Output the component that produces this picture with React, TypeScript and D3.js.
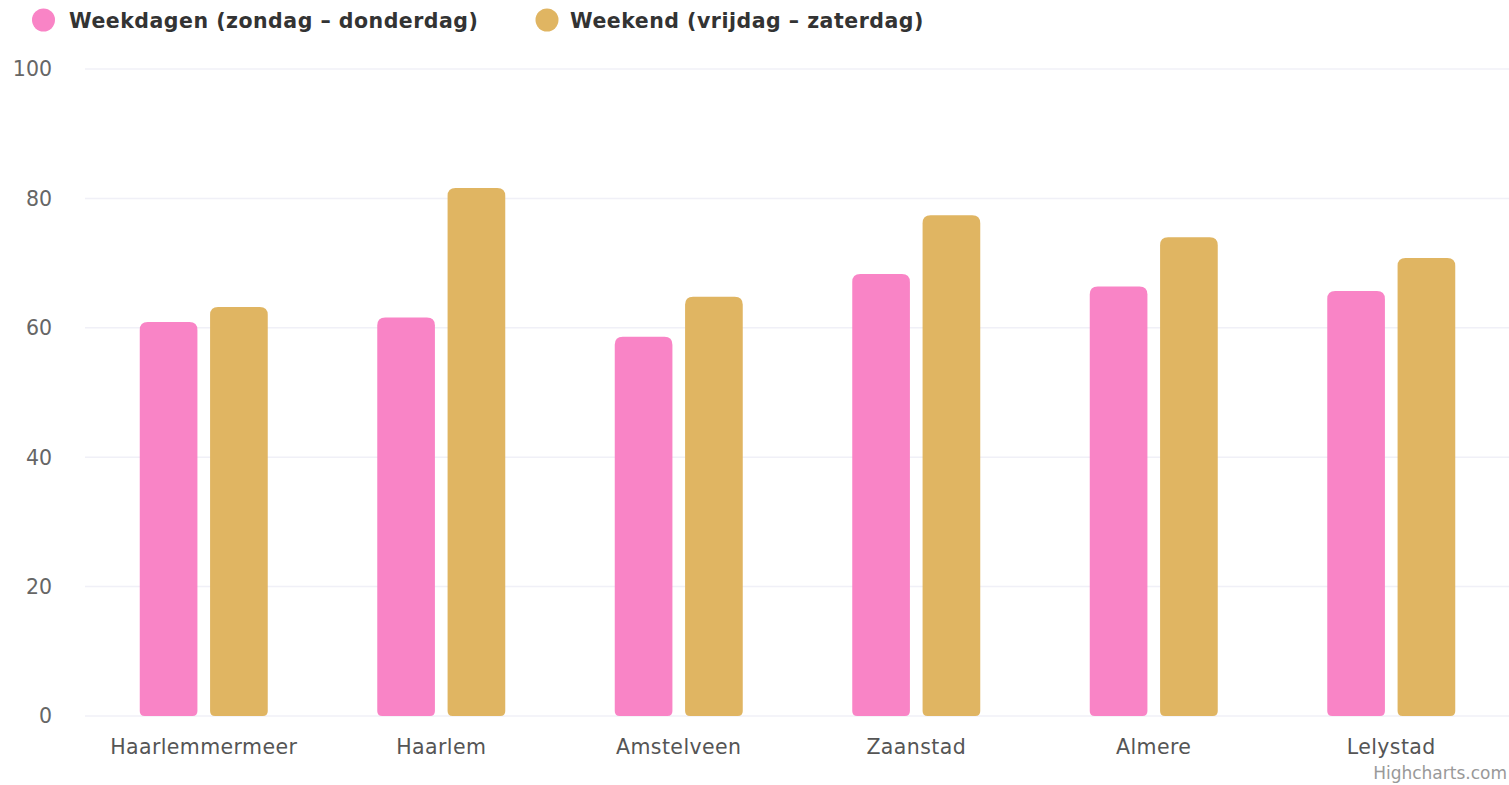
import { useEffect } from "react";
import * as d3 from "d3";

// ---------------- data
const cities = ["Haarlemmermeer", "Haarlem", "Amstelveen", "Zaanstad", "Almere", "Lelystad"];
const seriesNames = ["Weekdagen (zondag – donderdag)", "Weekend (vrijdag – zaterdag)"];
const weekdays = [60.9, 61.6, 58.6, 68.3, 66.4, 65.7];
const weekend = [63.2, 81.6, 64.8, 77.4, 74.0, 70.8];
const yTicks = [0, 20, 40, 60, 80, 100];

const colors = ["#f984c6", "#e0b562"];

// basic attributes
const width = 1509;
const height = 785;
const margin = { left: 85, right: -1, top: 69, bottom: 69 };
const font = "'DejaVu Sans', Verdana, sans-serif";

// rounded top / bottom bar path
function barPath(x: number, y: number, w: number, h: number, rt: number, rb: number) {
    rt = Math.min(rt, h / 2, w / 2);
    rb = Math.min(rb, h / 2, w / 2);
    return `M${x},${y + rt}` +
        `Q${x},${y} ${x + rt},${y}` +
        `L${x + w - rt},${y}` +
        `Q${x + w},${y} ${x + w},${y + rt}` +
        `L${x + w},${y + h - rb}` +
        `Q${x + w},${y + h} ${x + w - rb},${y + h}` +
        `L${x + rb},${y + h}` +
        `Q${x},${y + h} ${x},${y + h - rb}Z`;
}

export default function App() {
    useEffect(() => {
        document.body.style.margin = "0";
    }, []);

    const x0 = d3.scaleBand<string>()
        .domain(cities)
        .range([margin.left, width - margin.right]);

    const groupW = 128;
    const x1 = d3.scaleBand<number>()
        .domain([0, 1])
        .range([-groupW / 2, groupW / 2])
        .paddingInner(0.18);

    const y = d3.scaleLinear()
        .domain([0, 100])
        .range([height - margin.bottom, margin.top]);

    const series = [weekdays, weekend];

    return (
        <svg width={width} height={height} style={{ display: "block", background: "#fff" }}>
            {/* ------------- legend */}
            <g fontFamily={font} fontWeight="bold" fontSize={20.5} fill="#333" letterSpacing={0.5}>
                <circle cx={43.5} cy={20} r={11.5} fill={colors[0]} />
                <text x={69} y={28}>{seriesNames[0]}</text>
                <circle cx={547} cy={20} r={11.5} fill={colors[1]} />
                <text x={570} y={28}>{seriesNames[1]}</text>
            </g>

            {/* ------------- grid + y axis */}
            <g fontFamily={font} fontSize={20.5} fill="#666">
                {yTicks.map(t => (
                    <g key={t}>
                        <line x1={margin.left} x2={width} y1={y(t)} y2={y(t)}
                            stroke="#f0f0f7" strokeWidth={1.5} />
                        <text x={52} y={y(t)} dy="0.36em" textAnchor="end">{t}</text>
                    </g>
                ))}
            </g>

            {/* ------------- bars */}
            {cities.map((c, i) => {
                const cx = x0(c)! + x0.bandwidth() / 2;
                return (
                    <g key={c}>
                        {series.map((s, k) => {
                            const bx = cx + x1(k)!;
                            const top = y(s[i]);
                            return (
                                <path key={k}
                                    d={barPath(bx, top, x1.bandwidth(), y(0) - top, 8, 5)}
                                    fill={colors[k]} />
                            );
                        })}
                    </g>
                );
            })}

            {/* ------------- x axis labels */}
            <g fontFamily={font} fontSize={20.5} fill="#555" textAnchor="middle" letterSpacing={0.4}>
                {cities.map(c => (
                    <text key={c} x={x0(c)! + x0.bandwidth() / 2} y={754}>{c}</text>
                ))}
            </g>

            {/* ------------- credits */}
            <text x={1507} y={779} textAnchor="end" fontFamily={font} fontSize={17} fill="#999">
                Highcharts.com
            </text>
        </svg>
    );
}
